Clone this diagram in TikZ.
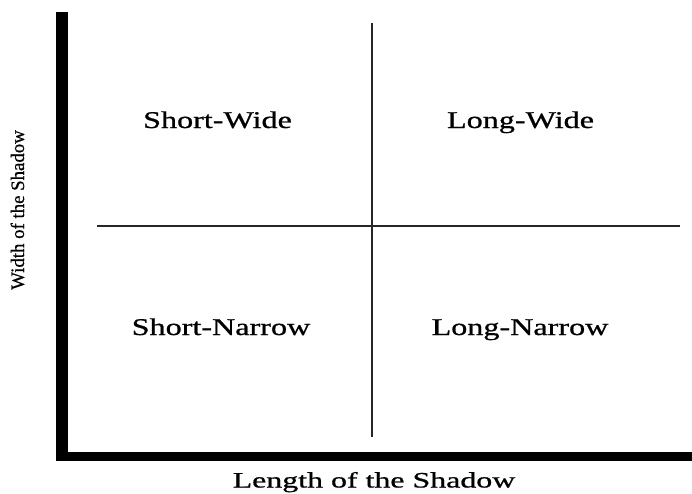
\documentclass[tikz,border=0pt]{standalone}
\usepackage{fontspec}
\setmainfont[FakeBold=0.7]{Liberation Serif}
\usepackage{graphicx}

\begin{document}
\begin{tikzpicture}[x=1pt,y=-1pt]
\tikzset{quad/.style={anchor=base,inner sep=0pt,font=\fontsize{24}{28}\selectfont},
  axislabel/.style={anchor=base,inner sep=0pt,font=\fontsize{22}{26}\selectfont},
  divider/.style={line width=1.6pt,black!85}}
\useasboundingbox (0,0) rectangle (692,493);

% heavy axes
\fill (55.5,11.7) rectangle (68,461);
\fill (55.5,452) rectangle (692,461);

% quadrant lines
\coordinate (vtop) at (372,23);
\coordinate (vbot) at (372,437);
\coordinate (hleft) at (97,226);
\coordinate (hright) at (680,226);
\draw[divider] (vtop) -- (vbot);
\draw[divider] (hleft) -- (hright);

\node[quad] (sw) at (217.5,128) {\scalebox{1.34}[1]{Short-Wide}};
\node[quad] (lw) at (520.5,128) {\scalebox{1.34}[1]{Long-Wide}};
\node[quad] (sn) at (221,335) {\scalebox{1.34}[1]{Short-Narrow}};
\node[quad] (ln) at (520,335) {\scalebox{1.34}[1]{Long-Narrow}};

\node[axislabel] (xlab) at (374,487.5) {\scalebox{1.45}[1]{Length of the Shadow}};
\node[axislabel,rotate=90,font=\fontsize{19}{22}\selectfont] (ylab) at (24,210)
  {\scalebox{0.99}[1]{Width of the Shadow}};
\end{tikzpicture}
\end{document}
